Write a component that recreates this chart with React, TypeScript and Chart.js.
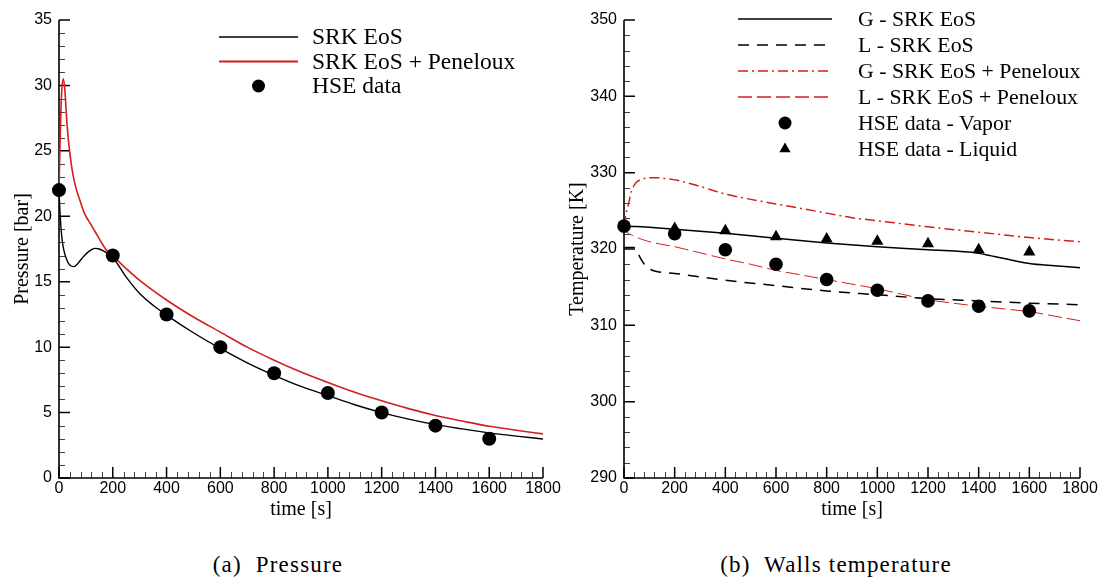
import React, { useEffect, useRef } from "react";
import { Chart, registerables } from "chart.js";

Chart.register(...registerables);

// ---------- Pressure chart data ----------
const pressureTimeSRK = [0, 4, 10, 16, 25, 35, 45, 56, 70, 90, 110, 134, 150, 165, 180, 200, 250, 300, 350, 400, 500, 600, 700, 800, 900, 1000, 1100, 1200, 1300, 1400, 1500, 1600, 1700, 1800];
const pressureSRK = [22, 20.2, 18.5, 17.6, 16.9, 16.4, 16.2, 16.15, 16.4, 16.9, 17.3, 17.55, 17.5, 17.35, 17.15, 16.85, 15.35, 14.1, 13.2, 12.45, 11.1, 9.9, 8.8, 7.85, 7.0, 6.3, 5.6, 5.0, 4.5, 4.08, 3.75, 3.45, 3.2, 2.98];
const pressureTimePen = [0, 5, 10, 16, 22, 28, 35, 47, 60, 78, 95, 115, 135, 152, 170, 190, 200, 250, 300, 400, 500, 600, 700, 800, 900, 1000, 1100, 1200, 1300, 1400, 1500, 1600, 1700, 1800];
const pressurePen = [22, 26.5, 29.5, 30.5, 29.6, 27.6, 25.8, 23.8, 22.4, 21.2, 20.2, 19.5, 18.8, 18.2, 17.6, 17.1, 16.95, 16.0, 15.1, 13.6, 12.3, 11.15, 10.0, 9.0, 8.1, 7.3, 6.55, 5.9, 5.3, 4.78, 4.35, 3.95, 3.65, 3.37];
const hseTime = [0, 200, 400, 600, 800, 1000, 1200, 1400, 1600];
const hsePressure = [22, 17, 12.5, 10, 8, 6.5, 5, 4, 3];

// ---------- Temperature chart data ----------
const tempTimeGSRK = [0, 50, 100, 200, 400, 600, 800, 1000, 1200, 1400, 1450, 1500, 1600, 1700, 1800];
const tempGSRK = [323, 322.95, 322.85, 322.6, 322.05, 321.4, 320.8, 320.3, 319.9, 319.45, 319.1, 318.75, 318.1, 317.8, 317.55];
const tempTimeLSRK = [0, 40, 50, 65, 80, 100, 130, 200, 400, 600, 800, 1000, 1200, 1400, 1600, 1800];
const tempLSRK = [320.2, 320.2, 319.8, 318.8, 318.0, 317.4, 317.05, 316.8, 315.9, 315.2, 314.5, 314.0, 313.5, 313.2, 312.9, 312.7];
const tempTimeGPen = [0, 8, 17, 30, 45, 63, 90, 120, 160, 210, 300, 400, 500, 600, 700, 800, 900, 1000, 1200, 1400, 1600, 1800];
const tempGPen = [323, 324.6, 325.8, 327.6, 328.6, 329.05, 329.3, 329.35, 329.25, 329.0, 328.2, 327.2, 326.5, 325.9, 325.3, 324.7, 324.1, 323.7, 322.9, 322.2, 321.5, 320.95];
const tempTimeLPen = [0, 10, 40, 76, 120, 200, 300, 400, 500, 600, 700, 800, 900, 1000, 1100, 1200, 1300, 1400, 1500, 1600, 1700, 1800];
const tempLPen = [323, 322.3, 321.7, 321.2, 320.8, 320.3, 319.5, 318.7, 318.0, 317.2, 316.6, 316.0, 315.4, 314.8, 314.05, 313.35, 312.9, 312.5, 312.15, 311.8, 311.2, 310.6];
const hseTimeVapor = [0, 200, 400, 600, 800, 1000, 1200, 1400, 1600];
const hseTempVapor = [323, 322.0, 319.9, 318.0, 316.0, 314.6, 313.2, 312.5, 311.9];
const hseTimeLiquid = [200, 400, 600, 800, 1000, 1200, 1400, 1600];
const hseTempLiquid = [322.7, 322.4, 321.6, 321.3, 321.0, 320.7, 319.9, 319.6];

// ---------- Axis ticks ----------
const timeMin = 0, timeMax = 1800, timeMajor = 200, timeMinor = 40;
const pressMin = 0, pressMax = 35, pressMajor = 5, pressMinor = 1;
const tempMin = 290, tempMax = 350, tempMajor = 10, tempMinor = 2;

const RED = "#d41e1e";
const SANS = '"Liberation Sans", Arial, sans-serif';
const SERIF = '"Liberation Serif", "Times New Roman", serif';

const zip = (xs: number[], ys: number[]) => xs.map((x, i) => ({ x, y: ys[i] }));

const axesPlugin = {
  id: "tecAxes",
  beforeDatasetsDraw(chart: any, _a: any, opts: any) {
    const { ctx, chartArea: a, scales } = chart;
    const x = scales.x, y = scales.y;
    ctx.save();
    ctx.lineWidth = 1;
    ctx.strokeStyle = "#444";
    ctx.beginPath();
    for (let v = x.min; v <= x.max + 1e-9; v += opts.xMinor) {
      const isMajor = Math.abs(v / opts.xMajor - Math.round(v / opts.xMajor)) < 1e-6;
      if (isMajor) continue;
      const px = Math.round(x.getPixelForValue(v)) + 0.5;
      ctx.moveTo(px, a.bottom);
      ctx.lineTo(px, a.bottom - 6);
    }
    for (let v = y.min; v <= y.max + 1e-9; v += opts.yMinor) {
      const isMajor = Math.abs(v / opts.yMajor - Math.round(v / opts.yMajor)) < 1e-6;
      if (isMajor) continue;
      const py = Math.round(y.getPixelForValue(v)) + 0.5;
      ctx.moveTo(a.left, py);
      ctx.lineTo(a.left + 6, py);
    }
    ctx.stroke();
    ctx.strokeStyle = "#000";
    ctx.lineWidth = 1.5;
    ctx.beginPath();
    for (let v = x.min; v <= x.max + 1e-9; v += opts.xMajor) {
      const px = x.getPixelForValue(v);
      ctx.moveTo(px, a.bottom);
      ctx.lineTo(px, a.bottom - 11);
    }
    for (let v = y.min; v <= y.max + 1e-9; v += opts.yMajor) {
      const py = y.getPixelForValue(v);
      ctx.moveTo(a.left, py);
      ctx.lineTo(a.left + 11, py);
    }
    ctx.stroke();
    ctx.lineWidth = 1.6;
    ctx.beginPath();
    ctx.moveTo(a.left, a.top);
    ctx.lineTo(a.left, a.bottom);
    ctx.lineTo(a.right, a.bottom);
    ctx.stroke();
    ctx.restore();
  },
};

const legendPlugin = {
  id: "tecLegend",
  afterDraw(chart: any, _a: any, opts: any) {
    const ctx = chart.ctx;
    ctx.save();
    ctx.font = `${opts.fontSize}px ${SERIF}`;
    ctx.textBaseline = "middle";
    ctx.textAlign = "left";
    opts.items.forEach((it: any, i: number) => {
      const y = opts.y0 + i * opts.dy;
      const cx = (opts.x0 + opts.x1) / 2;
      if (it.kind === "line") {
        ctx.beginPath();
        ctx.setLineDash(it.dash || []);
        ctx.strokeStyle = it.color;
        ctx.lineWidth = it.width;
        ctx.moveTo(opts.x0, y);
        ctx.lineTo(opts.x1, y);
        ctx.stroke();
        ctx.setLineDash([]);
      } else if (it.kind === "circle") {
        ctx.beginPath();
        ctx.fillStyle = "#000";
        ctx.arc(cx, y, it.r, 0, Math.PI * 2);
        ctx.fill();
      } else if (it.kind === "triangle") {
        const r = it.r;
        ctx.beginPath();
        ctx.fillStyle = "#000";
        ctx.moveTo(cx, y - r);
        ctx.lineTo(cx + r * 0.866, y + r * 0.5);
        ctx.lineTo(cx - r * 0.866, y + r * 0.5);
        ctx.closePath();
        ctx.fill();
      }
      ctx.fillStyle = "#000";
      ctx.fillText(it.label, opts.tx, y + 1);
    });
    ctx.restore();
  },
};

function xScale() {
  return {
    type: "linear",
    min: timeMin,
    max: timeMax,
    ticks: {
      stepSize: timeMajor,
      autoSkip: false,
      maxRotation: 0,
      color: "#000",
      padding: 1,
      font: { family: SANS, size: 16 },
      callback: (v: any) => String(v),
    },
    grid: { display: false, drawTicks: false },
    border: { display: false },
    title: {
      display: true,
      text: "time [s]",
      color: "#000",
      font: { family: SERIF, size: 20 },
      padding: { top: 0, bottom: 8 },
    },
    afterFit: (s: any) => {
      s.height = 52;
    },
  };
}

function yScale(min: number, max: number, step: number, title: string, width: number, titlePad: number) {
  return {
    type: "linear",
    min,
    max,
    ticks: {
      stepSize: step,
      color: "#000",
      padding: 7,
      font: { family: SANS, size: 16 },
      callback: (v: any) => String(v),
    },
    grid: { display: false, drawTicks: false },
    border: { display: false },
    title: {
      display: true,
      text: title,
      color: "#000",
      font: { family: SERIF, size: 20 },
      padding: { top: titlePad, bottom: 0 },
    },
    afterFit: (s: any) => {
      s.width = width;
    },
  };
}

const lineDs = (label: string, xs: number[], ys: number[], color: string, width: number, dash: number[] = []) => ({
  label,
  data: zip(xs, ys),
  showLine: true,
  borderColor: color,
  borderWidth: width,
  borderDash: dash,
  pointRadius: 0,
  fill: false,
  cubicInterpolationMode: "monotone",
  order: 2,
});

const markDs = (label: string, xs: number[], ys: number[], style: string, r: number) => ({
  label,
  data: zip(xs, ys),
  showLine: false,
  pointStyle: style,
  pointRadius: r,
  pointBackgroundColor: "#000",
  pointBorderColor: "#000",
  pointBorderWidth: 0,
  clip: false,
  order: 1,
});

function leftConfig(): any {
  return {
    type: "scatter",
    data: {
      datasets: [
        markDs("HSE data", hseTime, hsePressure, "circle", 7),
        lineDs("SRK EoS", pressureTimeSRK, pressureSRK, "#000", 1.4),
        lineDs("SRK EoS + Peneloux", pressureTimePen, pressurePen, RED, 1.6),
      ],
    },
    options: {
      animation: false,
      responsive: false,
      maintainAspectRatio: false,
      layout: { padding: { top: 20, right: 23, left: 0, bottom: 0 } },
      scales: {
        x: xScale(),
        y: yScale(pressMin, pressMax, pressMajor, "Pressure [bar]", 59, 11),
      },
      plugins: {
        legend: { display: false },
        tooltip: { enabled: false },
        tecAxes: { xMajor: timeMajor, xMinor: timeMinor, yMajor: pressMajor, yMinor: pressMinor },
        tecLegend: {
          fontSize: 23.5,
          x0: 219,
          x1: 298,
          tx: 312,
          y0: 37,
          dy: 24.5,
          items: [
            { kind: "line", label: "SRK EoS", color: "#000", width: 1.5 },
            { kind: "line", label: "SRK EoS + Peneloux", color: RED, width: 1.8 },
            { kind: "circle", label: "HSE data", r: 6.5 },
          ],
        },
      },
    },
    plugins: [axesPlugin, legendPlugin],
  };
}

function rightConfig(): any {
  return {
    type: "scatter",
    data: {
      datasets: [
        markDs("HSE data - Vapor", hseTimeVapor, hseTempVapor, "circle", 6.8),
        markDs("HSE data - Liquid", hseTimeLiquid, hseTempLiquid, "triangle", 7),
        lineDs("G - SRK EoS", tempTimeGSRK, tempGSRK, "#000", 1.5),
        lineDs("L - SRK EoS", tempTimeLSRK, tempLSRK, "#000", 1.5, [11, 8]),
        lineDs("G - SRK EoS + Peneloux", tempTimeGPen, tempGPen, RED, 1.5, [10, 4, 2, 4]),
        lineDs("L - SRK EoS + Peneloux", tempTimeLPen, tempLPen, RED, 1, [14, 5]),
      ],
    },
    options: {
      animation: false,
      responsive: false,
      maintainAspectRatio: false,
      layout: { padding: { top: 20, right: 22, left: 0, bottom: 0 } },
      scales: {
        x: xScale(),
        y: yScale(tempMin, tempMax, tempMajor, "Temperature [K]", 58, 0),
      },
      plugins: {
        legend: { display: false },
        tooltip: { enabled: false },
        tecAxes: { xMajor: timeMajor, xMinor: timeMinor, yMajor: tempMajor, yMinor: tempMinor },
        tecLegend: {
          fontSize: 21.8,
          x0: 172,
          x1: 266,
          tx: 292,
          y0: 19,
          dy: 26,
          items: [
            { kind: "line", label: "G - SRK EoS", color: "#000", width: 1.5 },
            { kind: "line", label: "L - SRK EoS", color: "#000", width: 1.5, dash: [11, 8] },
            { kind: "line", label: "G - SRK EoS + Peneloux", color: RED, width: 1.6, dash: [10, 4, 2, 4] },
            { kind: "line", label: "L - SRK EoS + Peneloux", color: RED, width: 1.6, dash: [14, 5] },
            { kind: "circle", label: "HSE data - Vapor", r: 6.5 },
            { kind: "triangle", label: "HSE data - Liquid", r: 6.5 },
          ],
        },
      },
    },
    plugins: [axesPlugin, legendPlugin],
  };
}

const captionStyle: React.CSSProperties = {
  position: "absolute",
  top: 551,
  width: 320,
  textAlign: "center",
  fontFamily: SERIF,
  fontSize: 23,
  lineHeight: "28px",
  letterSpacing: "1.2px",
  color: "#000",
  whiteSpace: "pre",
};

export default function App() {
  const leftRef = useRef<HTMLCanvasElement>(null);
  const rightRef = useRef<HTMLCanvasElement>(null);

  useEffect(() => {
    const c1 = new Chart(leftRef.current as HTMLCanvasElement, leftConfig());
    const c2 = new Chart(rightRef.current as HTMLCanvasElement, rightConfig());
    return () => {
      c1.destroy();
      c2.destroy();
    };
  }, []);

  return (
    <div style={{ position: "absolute", left: 0, top: 0, width: 1102, height: 579, background: "#fff", overflow: "hidden" }}>
      <canvas ref={leftRef} width={566} height={530} style={{ position: "absolute", left: 0, top: 0, width: 566, height: 530 }} />
      <canvas ref={rightRef} width={536} height={530} style={{ position: "absolute", left: 566, top: 0, width: 536, height: 530 }} />
      <div style={{ ...captionStyle, left: 278 - 160 }}>{"(a)  Pressure"}</div>
      <div style={{ ...captionStyle, left: 836 - 160 }}>{"(b)  Walls temperature"}</div>
    </div>
  );
}
